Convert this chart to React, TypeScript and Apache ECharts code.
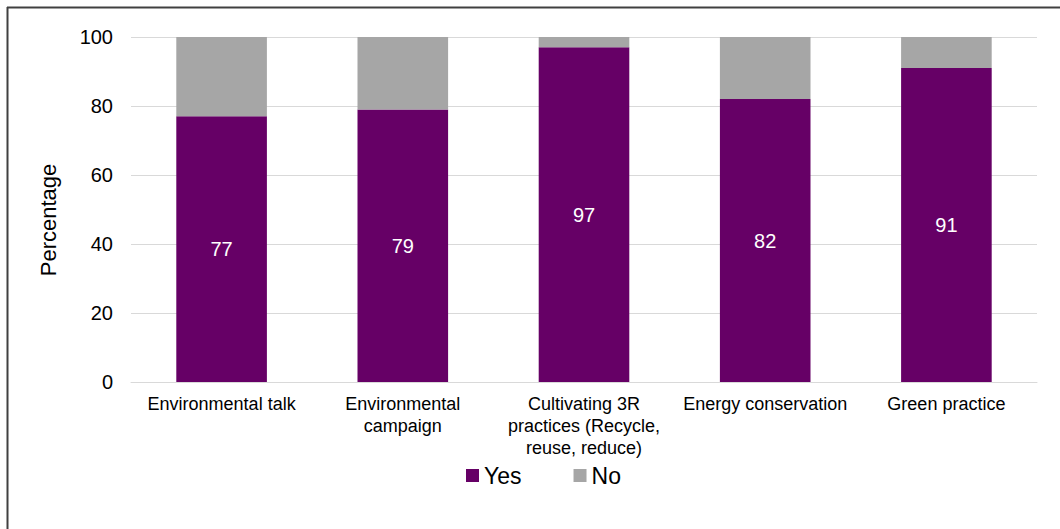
import React, { useEffect, useRef } from "react";
import * as echarts from "echarts";

const categories = [
  "Environmental talk",
  "Environmental\ncampaign",
  "Cultivating 3R\npractices (Recycle,\nreuse, reduce)",
  "Energy conservation",
  "Green practice",
];
const yesValues = [77, 79, 97, 82, 91];
const noValues = [23, 21, 3, 18, 9];
const seriesNames = ["Yes", "No"];
const yTicks = { min: 0, max: 100, interval: 20 };

const FONT = "Liberation Sans, Arial, sans-serif";

export default function App() {
  const ref = useRef<HTMLDivElement>(null);

  useEffect(() => {
    if (!ref.current) return;
    const chart = echarts.init(ref.current, undefined, { renderer: "svg" });
    chart.setOption({
      animation: false,
      backgroundColor: "#ffffff",
      textStyle: { fontFamily: FONT },
      grid: { left: 131, right: 23, top: 37, bottom: 147 },
      legend: {
        data: seriesNames,
        left: 461,
        top: 459,
        itemWidth: 13,
        itemHeight: 13,
        itemGap: 52,
        icon: "rect",
        textStyle: { fontSize: 23, color: "#000", fontFamily: FONT },
      },
      xAxis: {
        type: "category",
        data: categories,
        axisLine: { show: true, lineStyle: { color: "#d9d9d9", width: 1 } },
        axisTick: { show: false },
        axisLabel: {
          interval: 0,
          color: "#000",
          fontSize: 18,
          lineHeight: 22,
          margin: 11,
          fontFamily: FONT,
        },
      },
      yAxis: {
        type: "value",
        min: yTicks.min,
        max: yTicks.max,
        interval: yTicks.interval,
        axisLine: { show: false },
        axisTick: { show: false },
        splitLine: { lineStyle: { color: "#d9d9d9", width: 1 } },
        axisLabel: { color: "#000", fontSize: 20, margin: 18, fontFamily: FONT },
      },
      series: [
        {
          name: seriesNames[0],
          type: "bar",
          stack: "total",
          data: yesValues,
          barWidth: "50%",
          itemStyle: { color: "#660066" },
          label: {
            show: true,
            position: "inside",
            color: "#ffffff",
            fontSize: 20,
            fontFamily: FONT,
          },
        },
        {
          name: seriesNames[1],
          type: "bar",
          stack: "total",
          data: noValues,
          barWidth: "50%",
          itemStyle: { color: "#a6a6a6" },
        },
      ],
      graphic: [
        {
          type: "text",
          x: 48,
          y: 220,
          rotation: Math.PI / 2,
          style: {
            text: "Percentage",
            fontSize: 22,
            fontFamily: FONT,
            fill: "#000",
            textAlign: "center",
            textVerticalAlign: "middle",
          },
        },
        {
          type: "line",
          shape: { x1: 7.5, y1: 7, x2: 7.5, y2: 529 },
          style: { stroke: "#404040", lineWidth: 2 },
        },
        {
          type: "line",
          shape: { x1: 7, y1: 7.5, x2: 1060, y2: 7.5 },
          style: { stroke: "#404040", lineWidth: 2 },
        },
      ],
    });
    return () => chart.dispose();
  }, []);

  return (
    <div
      ref={ref}
      style={{ position: "fixed", left: 0, top: 0, width: 1060, height: 529 }}
    />
  );
}
